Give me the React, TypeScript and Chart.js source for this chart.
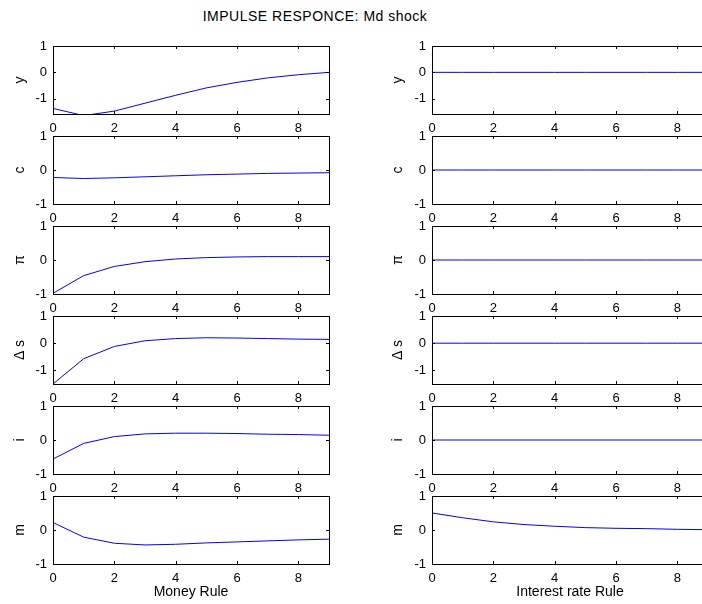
import React, { useEffect, useRef } from 'react';
import { Chart, registerables } from 'chart.js';

Chart.register(...registerables);

// ---------------- data ----------------
const horizon = [0, 1, 2, 3, 4, 5, 6, 7, 8, 9];
const xTickValues = [0, 2, 4, 6, 8];
const yTickValues = [-1, 0, 1];
const variableNames = ['y', 'c', 'π', 'Δ s', 'i', 'm'];
const yAxisMin = [-1.58, -1, -1, -1.5, -1, -1];
const yAxisMax = [1, 1, 1, 1, 1, 1];

const moneyRuleY = [-1.37, -1.64, -1.47, -1.17, -0.87, -0.59, -0.38, -0.21, -0.09, 0.0];
const moneyRuleC = [-0.22, -0.25, -0.23, -0.2, -0.17, -0.14, -0.12, -0.1, -0.09, -0.08];
const moneyRulePi = [-0.98, -0.46, -0.19, -0.05, 0.03, 0.07, 0.09, 0.1, 0.1, 0.1];
const moneyRuleDs = [-1.5, -0.57, -0.12, 0.09, 0.17, 0.2, 0.19, 0.17, 0.15, 0.14];
const moneyRuleI = [-0.56, -0.1, 0.1, 0.18, 0.2, 0.2, 0.19, 0.17, 0.16, 0.14];
const moneyRuleM = [0.22, -0.21, -0.39, -0.44, -0.42, -0.38, -0.35, -0.32, -0.29, -0.27];

const interestRuleY = [0, 0, 0, 0, 0, 0, 0, 0, 0, 0];
const interestRuleC = [0, 0, 0, 0, 0, 0, 0, 0, 0, 0];
const interestRulePi = [0, 0, 0, 0, 0, 0, 0, 0, 0, 0];
const interestRuleDs = [0, 0, 0, 0, 0, 0, 0, 0, 0, 0];
const interestRuleI = [0, 0, 0, 0, 0, 0, 0, 0, 0, 0];
const interestRuleM = [0.5, 0.36, 0.24, 0.16, 0.11, 0.07, 0.05, 0.04, 0.02, 0.01];

const columnTitles = ['Money Rule', 'Interest rate Rule'];
const figureTitle = 'IMPULSE RESPONCE: Md shock';

const columnSeries = [
  [moneyRuleY, moneyRuleC, moneyRulePi, moneyRuleDs, moneyRuleI, moneyRuleM],
  [interestRuleY, interestRuleC, interestRulePi, interestRuleDs, interestRuleI, interestRuleM],
];

// ---------------- layout ----------------
const FONT = '"Liberation Sans", Arial, Helvetica, sans-serif';
const PLOT_LEFT = [53, 432];
const PLOT_TOP = [46, 136, 226, 316, 406, 496];
const PLOT_W = 276;
const PLOT_H = 68;
const YAXIS_W = 50;
const PAD_T = 16;
const PAD_R = 10;
const XAXIS_H = 24;
const XAXIS_H_LAST = 40;
const YTITLE_PAD = [9, 8];
const TICK_LEN = 3;

const boxPlugin = {
  id: 'matlabBox',
  afterDraw(chart: any) {
    const { ctx, chartArea, scales } = chart;
    const { left, top, right, bottom } = chartArea;
    const x = scales.x;
    const y = scales.y;
    ctx.save();
    ctx.strokeStyle = '#000';
    ctx.lineWidth = 1;
    ctx.beginPath();
    x.ticks.forEach((t: any) => {
      const px = Math.round(x.getPixelForValue(t.value)) + 0.5;
      ctx.moveTo(px, bottom);
      ctx.lineTo(px, bottom - TICK_LEN);
      ctx.moveTo(px, top);
      ctx.lineTo(px, top + TICK_LEN);
    });
    y.ticks.forEach((t: any) => {
      const py = Math.round(y.getPixelForValue(t.value)) + 0.5;
      ctx.moveTo(left, py);
      ctx.lineTo(left + TICK_LEN, py);
      ctx.moveTo(right, py);
      ctx.lineTo(right - TICK_LEN, py);
    });
    ctx.stroke();
    ctx.strokeRect(Math.round(left) + 0.5, Math.round(top) + 0.5, Math.round(right - left), Math.round(bottom - top));
    ctx.restore();
  },
};

function Panel({ col, row }: { col: number; row: number }) {
  const ref = useRef<HTMLCanvasElement | null>(null);
  const isLast = row === PLOT_TOP.length - 1;
  const xAxisH = isLast ? XAXIS_H_LAST : XAXIS_H;
  const cw = YAXIS_W + PLOT_W + PAD_R;
  const ch = PAD_T + PLOT_H + xAxisH;
  const left = PLOT_LEFT[col] - YAXIS_W;
  const top = PLOT_TOP[row] - PAD_T;

  useEffect(() => {
    if (!ref.current) return;
    const values = columnSeries[col][row];
    const chart = new Chart(ref.current, {
      type: 'line',
      data: {
        labels: horizon,
        datasets: [
          {
            data: horizon.map((h, i) => ({ x: h, y: values[i] })),
            borderColor: '#0000ff',
            borderWidth: 1,
            pointRadius: 0,
            tension: 0,
            fill: false,
            clip: 0,
          } as any,
        ],
      },
      options: {
        animation: false,
        responsive: false,
        events: [],
        layout: { padding: { top: PAD_T, right: PAD_R, left: 0, bottom: 0 } },
        plugins: { legend: { display: false }, tooltip: { enabled: false }, title: { display: false } },
        scales: {
          x: {
            type: 'linear',
            min: 0,
            max: 9,
            border: { display: false },
            grid: { display: false, drawTicks: false },
            afterBuildTicks: (s: any) => {
              s.ticks = xTickValues.map((v) => ({ value: v }));
            },
            afterFit: (s: any) => {
              s.height = xAxisH;
            },
            ticks: {
              color: '#000',
              padding: 7,
              maxRotation: 0,
              autoSkip: false,
              font: { family: FONT, size: 13 },
              callback: (v: any) => String(v),
            },
            title: {
              display: isLast,
              text: columnTitles[col],
              color: '#000',
              font: { family: FONT, size: 14 },
              padding: { top: 0, bottom: 3 },
            },
          },
          y: {
            type: 'linear',
            min: yAxisMin[row],
            max: yAxisMax[row],
            border: { display: false },
            grid: { display: false, drawTicks: false },
            afterBuildTicks: (s: any) => {
              s.ticks = yTickValues.map((v) => ({ value: v }));
            },
            afterFit: (s: any) => {
              s.width = YAXIS_W;
            },
            ticks: {
              color: '#000',
              padding: 6,
              autoSkip: false,
              font: { family: FONT, size: 13 },
              callback: (v: any) => String(v),
            },
            title: {
              display: true,
              text: variableNames[row],
              color: '#000',
              font: { family: FONT, size: 14 },
              padding: { top: YTITLE_PAD[col], bottom: 0 },
            },
          },
        },
      },
      plugins: [boxPlugin],
    });
    return () => chart.destroy();
  }, [col, row]);

  return (
    <canvas
      ref={ref}
      width={cw}
      height={ch}
      style={{ position: 'absolute', left, top, width: cw, height: ch }}
    />
  );
}

export default function App() {
  return (
    <div
      style={{
        position: 'fixed',
        left: 0,
        top: 0,
        width: 702,
        height: 604,
        overflow: 'hidden',
        background: '#fff',
      }}
    >
      <div
        style={{
          position: 'absolute',
          left: 0,
          top: 8,
          width: 630,
          textAlign: 'center',
          fontFamily: FONT,
          fontSize: 14,
          lineHeight: '16px',
          letterSpacing: '0.5px',
          color: '#000',
          whiteSpace: 'nowrap',
        }}
      >
        {figureTitle}
      </div>
      {[0, 1].map((col) =>
        PLOT_TOP.map((_, row) => <Panel key={`${col}-${row}`} col={col} row={row} />)
      )}
    </div>
  );
}
